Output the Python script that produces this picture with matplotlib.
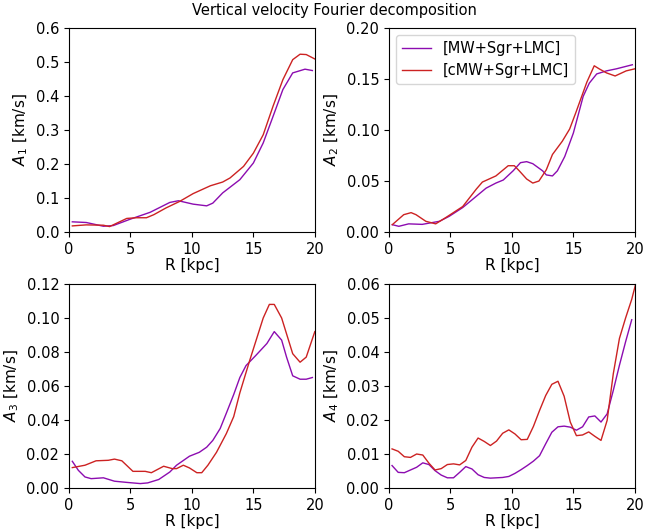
import numpy as np
import matplotlib
matplotlib.use('Agg')
from matplotlib import pyplot as plt

# A1 amplitude
r_a1_mw = [0.27, 1.4, 2.8, 3.6, 5.0, 6.6, 8.2, 8.9, 10.1, 11.2, 11.7, 12.5, 13.9, 15.0, 15.8, 16.6, 17.4, 18.2, 19.2, 19.8]
a1_mw = [0.030, 0.028, 0.017, 0.019, 0.038, 0.058, 0.087, 0.092, 0.082, 0.077, 0.085, 0.115, 0.154, 0.203, 0.262, 0.340, 0.419, 0.468, 0.479, 0.475]
r_a1_cmw = [0.27, 1.4, 2.8, 3.3, 4.7, 5.5, 6.3, 6.9, 7.9, 9.0, 10.1, 11.5, 12.5, 13.1, 14.2, 15.0, 15.8, 16.6, 17.4, 18.2, 18.8, 19.3, 20.0]
a1_cmw = [0.018, 0.021, 0.020, 0.016, 0.040, 0.042, 0.042, 0.051, 0.071, 0.090, 0.113, 0.136, 0.147, 0.159, 0.193, 0.232, 0.286, 0.370, 0.448, 0.507, 0.523, 0.522, 0.509]

# A2 amplitude
r_a2_mw = [0.27, 0.8, 1.6, 2.7, 4.1, 4.9, 6.0, 7.1, 7.9, 8.7, 9.3, 10.1, 10.7, 11.2, 11.7, 12.5, 12.8, 13.3, 13.7, 14.3, 15.0, 15.8, 16.3, 16.9, 17.7, 18.5, 19.8]
a2_mw = [0.0072, 0.0056, 0.008, 0.0075, 0.0105, 0.0154, 0.024, 0.035, 0.043, 0.048, 0.051, 0.060, 0.068, 0.069, 0.067, 0.060, 0.056, 0.055, 0.060, 0.074, 0.097, 0.133, 0.146, 0.155, 0.158, 0.160, 0.164]
r_a2_cmw = [0.27, 1.2, 1.8, 2.2, 3.0, 3.8, 4.6, 6.0, 7.1, 7.6, 8.7, 9.7, 10.2, 10.6, 11.2, 11.7, 12.2, 12.8, 13.3, 14.1, 14.7, 15.2, 16.1, 16.7, 17.1, 17.7, 18.4, 19.3, 20.0]
a2_cmw = [0.0072, 0.017, 0.019, 0.017, 0.0105, 0.008, 0.014, 0.025, 0.042, 0.049, 0.055, 0.065, 0.065, 0.060, 0.052, 0.048, 0.050, 0.061, 0.076, 0.089, 0.101, 0.117, 0.147, 0.163, 0.160, 0.156, 0.153, 0.158, 0.160]

# A3 amplitude
r_a3_mw = [0.27, 0.76, 1.3, 1.8, 2.8, 3.7, 4.7, 5.8, 6.4, 7.3, 8.2, 8.75, 9.8, 10.6, 11.2, 11.7, 12.3, 12.8, 13.4, 13.9, 14.4, 15.2, 16.1, 16.7, 17.3, 17.7, 18.2, 18.8, 19.3, 19.8]
a3_mw = [0.0157, 0.0104, 0.0065, 0.0055, 0.006, 0.004, 0.0033, 0.0026, 0.003, 0.005, 0.0094, 0.0134, 0.0187, 0.021, 0.024, 0.028, 0.035, 0.044, 0.055, 0.065, 0.072, 0.078, 0.085, 0.092, 0.087, 0.077, 0.066, 0.064, 0.064, 0.065]
r_a3_cmw = [0.27, 1.3, 2.2, 3.2, 3.7, 4.3, 5.2, 6.2, 6.7, 7.7, 8.4, 8.75, 9.3, 9.8, 10.4, 10.8, 11.3, 12.0, 12.8, 13.4, 13.9, 14.7, 15.8, 16.3, 16.7, 17.3, 18.2, 18.8, 19.3, 20.0]
a3_cmw = [0.012, 0.0134, 0.016, 0.0163, 0.017, 0.016, 0.0098, 0.0098, 0.009, 0.0128, 0.0114, 0.0114, 0.0134, 0.0118, 0.009, 0.009, 0.0134, 0.021, 0.032, 0.042, 0.056, 0.075, 0.100, 0.108, 0.108, 0.100, 0.079, 0.074, 0.077, 0.092]

# A4 amplitude, 0.5 kpc bins (the cMW run has one more bin past 20 kpc)
r_a4_mw = np.arange(0.25, 20.0, 0.5)
r_a4_cmw = np.arange(0.25, 20.5, 0.5)
a4_mw = [0.0066, 0.0046, 0.0045, 0.0053, 0.0061, 0.0074, 0.0069, 0.0051, 0.0038, 0.0030,
         0.0030, 0.0046, 0.0063, 0.0056, 0.0039, 0.0031, 0.0029, 0.0030, 0.0031, 0.0034,
         0.0043, 0.0054, 0.0066, 0.0079, 0.0095, 0.0130, 0.0164, 0.0180, 0.0182, 0.0179,
         0.0170, 0.0180, 0.0209, 0.0212, 0.0194, 0.0218, 0.0287, 0.0361, 0.0430, 0.0495]
a4_cmw = [0.0115, 0.0108, 0.0092, 0.0090, 0.0100, 0.0097, 0.0073, 0.0053, 0.0057, 0.0069,
          0.0071, 0.0068, 0.0081, 0.0120, 0.0147, 0.0137, 0.0125, 0.0138, 0.0161, 0.0171,
          0.0159, 0.0142, 0.0143, 0.0181, 0.0228, 0.0272, 0.0305, 0.0314, 0.0270, 0.0194,
          0.0154, 0.0156, 0.0165, 0.0152, 0.0140, 0.0199, 0.0336, 0.0440, 0.0500, 0.0555,
          0.0625]

c_mw = '#8c0cb0'
c_cmw = '#cc2222'

fig = plt.figure(figsize=(6.68, 5.29), dpi=100)
ax1 = fig.add_axes([0.1033, 0.5614, 0.368, 0.3856])
ax2 = fig.add_axes([0.5823, 0.5614, 0.368, 0.3856])
ax3 = fig.add_axes([0.1033, 0.0775, 0.368, 0.3856])
ax4 = fig.add_axes([0.5823, 0.0775, 0.368, 0.3856])

ax1.plot(r_a1_mw, a1_mw, color=c_mw, lw=1)
ax1.plot(r_a1_cmw, a1_cmw, color=c_cmw, lw=1)
ax1.set_ylim(0, 0.6)

ax2.plot(r_a2_mw, a2_mw, color=c_mw, lw=1, label='[MW+Sgr+LMC]')
ax2.plot(r_a2_cmw, a2_cmw, color=c_cmw, lw=1, label='[cMW+Sgr+LMC]')
ax2.set_ylim(0, 0.2)
ax2.legend(loc='upper left', fontsize=10.5)

ax3.plot(r_a3_mw, a3_mw, color=c_mw, lw=1)
ax3.plot(r_a3_cmw, a3_cmw, color=c_cmw, lw=1)
ax3.set_ylim(0, 0.12)

ax4.plot(r_a4_mw, a4_mw, color=c_mw, lw=1)
ax4.plot(r_a4_cmw, a4_cmw, color=c_cmw, lw=1)
ax4.set_ylim(0, 0.06)

for i, ax in enumerate([ax1, ax2, ax3, ax4]):
    ax.set_xlim(0, 20)
    ax.set_xticks([0, 5, 10, 15, 20])
    ax.set_xlabel('R [kpc]', fontsize=11, labelpad=1)
    ax.set_ylabel('$A_%d$ [km/s]' % (i + 1), fontsize=11)
    ax.tick_params(labelsize=10.5)

fig.suptitle('Vertical velocity Fourier decomposition', fontsize=10.5, y=0.995)
fig.savefig('out.png', dpi=100)
